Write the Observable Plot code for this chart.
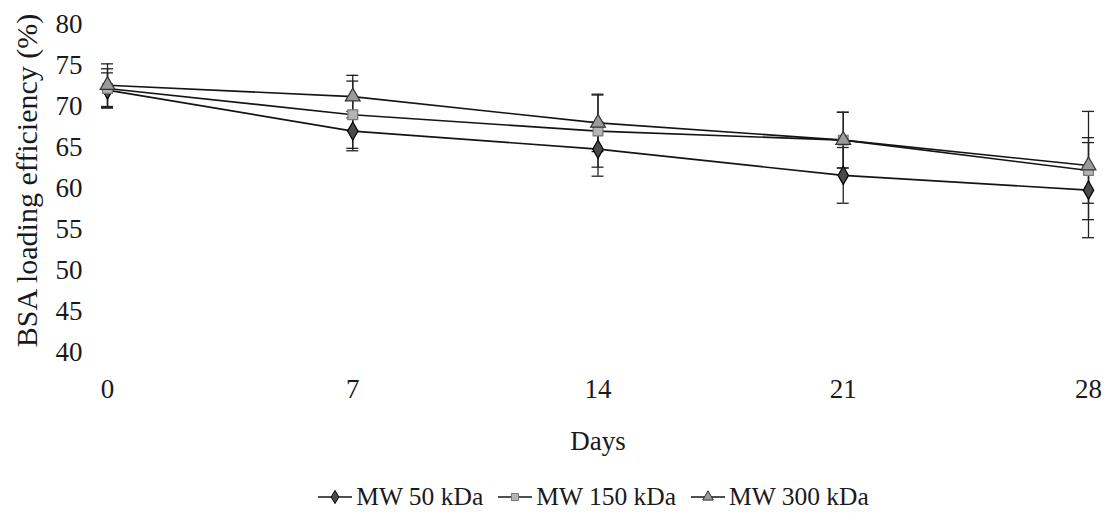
<!DOCTYPE html>
<html>
<head>
<meta charset="utf-8">
<script src="https://cdn.jsdelivr.net/npm/d3@7"></script>
<script src="https://cdn.jsdelivr.net/npm/@observablehq/plot@0.6"></script>
<style>
  html, body { margin: 0; padding: 0; background: #fff; }
  #chart { position: relative; width: 1116px; height: 518px; font-family: "Liberation Serif", "Times New Roman", serif; color: #1a1a1a; }
  #legend { position: absolute; left: 0; top: 476px; width: 1116px; height: 42px; display: flex; justify-content: center; align-items: center; font-size: 25.5px; padding-left: 84px; box-sizing: border-box; }
  .item { display: flex; align-items: center; margin: 0 14px 0 0; }
  .item svg { margin-right: 3px; }
</style>
</head>
<body>
<div id="chart"><div id="legend"></div></div>
<script>
// ---- data ----
const days = [0, 7, 14, 21, 28];
const seriesNames = ["MW 50 kDa", "MW 150 kDa", "MW 300 kDa"];
const mw50 = [72.0, 67.0, 64.8, 61.6, 59.8];
const mw150 = [72.2, 69.0, 67.0, 65.9, 62.2];
const mw300 = [72.6, 71.2, 68.0, 65.9, 62.8];
const err50 = [2.1, 2.4, 3.3, 3.4, 5.8];
const err150 = [2.4, 4.1, 4.4, 3.4, 4.0];
const err300 = [2.6, 2.6, 3.5, 3.4, 6.6];
const yTicks = [40, 45, 50, 55, 60, 65, 70, 75, 80];
const xLabel = "Days";
const yLabel = "BSA loading efficiency (%)";

const values = [mw50, mw150, mw300];
const errs = [err50, err150, err300];
const symbols = ["diamond", "square", "triangle"];
const fills = ["#4a4a4a", "#b4b4b4", "#9a9a9a"];
const strokes = ["#000", "#777", "#333"];

const data = [];
seriesNames.forEach((s, i) => days.forEach((d, j) => data.push({
  series: s, day: d, value: values[i][j], err: errs[i][j]
})));
const caps = data.flatMap(d => [{...d, v: d.value + d.err}, {...d, v: d.value - d.err}]);

const chart = Plot.plot({
  width: 1116,
  height: 476,
  marginLeft: 107,
  marginRight: 28,
  marginTop: 24,
  marginBottom: 124,
  style: { fontFamily: "'Liberation Serif', 'Times New Roman', serif", fontSize: "27px", color: "#1a1a1a", background: "#fff" },
  x: { domain: [0, 28] },
  y: { domain: [40, 80] },
  symbol: { domain: seriesNames, range: symbols },
  color: { domain: seriesNames, range: fills },
  marks: [
    Plot.axisX({ ticks: days, tickSize: 0, tickPadding: 26, label: null, fontSize: 27 }),
    Plot.axisY({ ticks: yTicks, tickSize: 0, tickPadding: 25, label: null, fontSize: 27 }),
    Plot.text([xLabel], { frameAnchor: "bottom", dy: 97, fontSize: 27, fill: "#1a1a1a" }),
    Plot.text([yLabel], { frameAnchor: "left", rotate: -90, textAnchor: "middle", dx: -80, dy: -8, fontSize: 30, fill: "#1a1a1a" }),
    Plot.line(data, { x: "day", y: "value", z: "series", stroke: "#141414", strokeWidth: 1.6 }),
    Plot.ruleX(data, { x: "day", y1: d => d.value - d.err, y2: d => d.value + d.err, stroke: "#222", strokeWidth: 1.3 }),
    Plot.ruleY(caps, { y: "v", x1: d => d.day - 0.17, x2: d => d.day + 0.17, stroke: "#222", strokeWidth: 1.3 }),
    Plot.dot(data, { x: "day", y: "value", symbol: "series", fill: "series", stroke: d => strokes[seriesNames.indexOf(d.series)], strokeWidth: 1.2, r: 5.5 })
  ]
});
document.getElementById("chart").prepend(chart);

// legend
const legend = document.getElementById("legend");
seriesNames.forEach((s, i) => {
  const item = document.createElement("div");
  item.className = "item";
  const sym = d3.symbol(i === 0 ? d3.symbolDiamond : i === 1 ? d3.symbolSquare : d3.symbolTriangle, 50)();
  item.innerHTML = `<svg width="36" height="18" viewBox="-18 -9 36 18"><line x1="-17" x2="17" y1="0" y2="0" stroke="#141414" stroke-width="1.6"/><path d="${sym}" fill="${fills[i]}" stroke="${strokes[i]}" stroke-width="1"/></svg><span>${s}</span>`;
  legend.appendChild(item);
});
</script>
</body>
</html>
